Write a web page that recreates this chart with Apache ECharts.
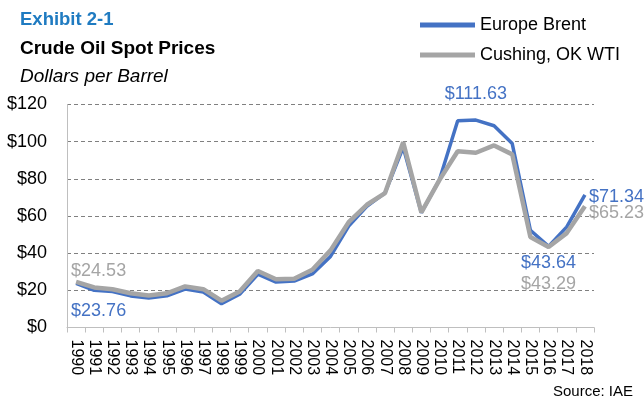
<!DOCTYPE html>
<html><head><meta charset="utf-8">
<script src="https://cdn.jsdelivr.net/npm/echarts@6/dist/echarts.min.js"></script>
<style>html,body{margin:0;padding:0;background:#fff}#c{width:644px;height:400px}</style>
</head><body><div id="c"></div>
<script>
const years = ['1990','1991','1992','1993','1994','1995','1996','1997','1998','1999','2000','2001','2002','2003','2004','2005','2006','2007','2008','2009','2010','2011','2012','2013','2014','2015','2016','2017','2018'];
const brent = [23.76,20.04,19.32,17.01,15.86,17.02,20.64,19.11,12.76,17.90,28.66,24.46,24.99,28.85,38.26,54.57,65.16,72.44,96.94,61.74,79.61,111.26,111.63,108.56,98.97,52.32,43.64,54.13,71.34];
const wti = [24.53,21.54,20.58,18.43,17.20,18.43,22.12,20.61,14.42,19.34,30.38,25.98,26.18,31.08,41.51,56.64,66.05,72.34,99.67,61.95,79.48,94.88,94.05,97.98,93.17,48.66,43.29,50.80,65.23];
const yTicks = [0,20,40,60,80,100,120];
const seriesNames = ['Europe Brent','Cushing, OK WTI'];
const BLUE = '#4472C4', GRAY = '#A5A5A5';
const FONT = '"Liberation Sans", Arial, sans-serif';

// labelled points: index -> label placement
const brentLabels = {0:{position:'bottom',distance:19, align:'left', offset:[-5,0]}, 22:{position:'top',distance:17}, 26:{position:'bottom',distance:8}, 28:{position:'right',distance:4, offset:[0,2]}};
const wtiLabels = {0:{position:'top',distance:2, align:'left', offset:[-5,0]}, 26:{position:'bottom',distance:28}, 28:{position:'right',distance:4, offset:[0,7]}};

function build(vals, labels, color){
  return vals.map((v,i)=>{
    const l = labels[i];
    if(!l) return v;
    return {value:v, label:Object.assign({show:true, color:color, fontSize:18, fontFamily:FONT, formatter:p=>'$'+p.value.toFixed(2)}, l)};
  });
}

const chart = echarts.init(document.getElementById('c'));
chart.setOption({
  animation:false,
  backgroundColor:'#fff',
  title:[
    {text:'Exhibit 2-1', left:15, top:5, textStyle:{color:'#1F7BC1', fontSize:18.5, fontWeight:'bold', fontFamily:FONT}},
    {text:'Crude Oil Spot Prices', left:15, top:34, textStyle:{color:'#000', fontSize:19, fontWeight:'bold', fontFamily:FONT}},
    {text:'Dollars per Barrel', left:15, top:62, textStyle:{color:'#000', fontSize:19, fontStyle:'italic', fontWeight:'normal', fontFamily:FONT}},
    {text:'Source: IAE', right:6, top:379, textStyle:{color:'#000', fontSize:15, fontWeight:'normal', fontFamily:FONT}}
  ],
  legend:{
    orient:'vertical', left:415, top:10, itemWidth:55, itemHeight:5, itemGap:10, icon:'rect',
    data:[{name:seriesNames[0], itemStyle:{color:BLUE}},{name:seriesNames[1], itemStyle:{color:GRAY}}],
    textStyle:{fontSize:18, fontFamily:FONT, color:'#000', lineHeight:20}
  },
  grid:{left:67, right:50, top:104.5, bottom:72.5},
  xAxis:{
    type:'category', data:years, boundaryGap:true,
    axisLine:{lineStyle:{color:'#BFBFBF', width:1}},
    axisTick:{show:true, length:5, lineStyle:{color:'#BFBFBF'}},
    axisLabel:{rotate:-90, interval:0, fontSize:16, fontFamily:FONT, color:'#000', margin:12}
  },
  yAxis:{
    type:'value', min:0, max:120, interval:20,
    axisLine:{show:true, lineStyle:{color:'#BFBFBF'}},
    axisTick:{show:false},
    axisLabel:{formatter:v=>'$'+v, fontSize:18, fontFamily:FONT, color:'#000', margin:20},
    splitLine:{lineStyle:{color:'#808080', type:[4,3], width:1}}
  },
  series:[
    {name:seriesNames[0], type:'line', data:build(brent, brentLabels, BLUE), symbol:'circle', symbolSize:0.01, showSymbol:true, showAllSymbol:true, lineStyle:{color:BLUE, width:3.5}, itemStyle:{color:BLUE}, z:2},
    {name:seriesNames[1], type:'line', data:build(wti, wtiLabels, GRAY), symbol:'circle', symbolSize:0.01, showSymbol:true, showAllSymbol:true, lineStyle:{color:GRAY, width:4.5}, itemStyle:{color:GRAY}, z:3}
  ]
});
</script></body></html>
